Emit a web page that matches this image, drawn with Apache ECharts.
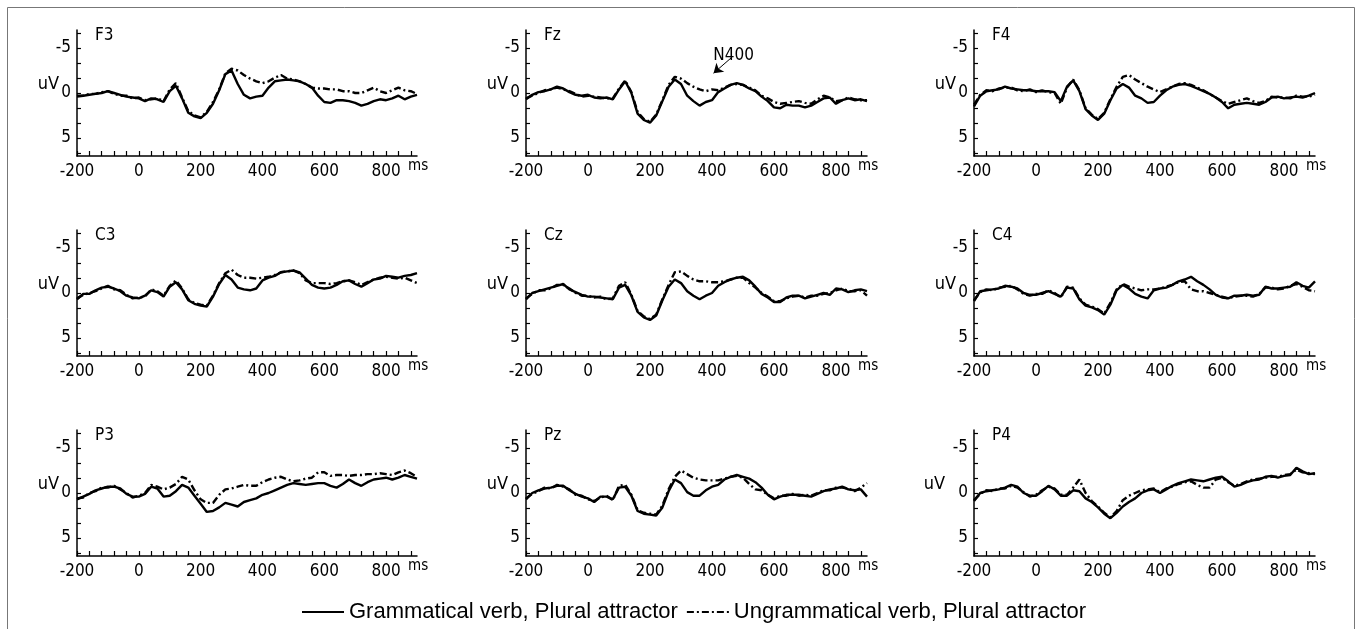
<!DOCTYPE html>
<html>
<head>
<meta charset="utf-8">
<title>ERP waveforms</title>
<script src="https://cdn.jsdelivr.net/npm/echarts@6/dist/echarts.min.js"></script>
<style>
  html, body { margin: 0; padding: 0; background: #fff; }
  #chart { width: 1360px; height: 629px; }
</style>
</head>
<body>
<div id="chart"></div>
<script>
// time axis (ms), one sample every 20 ms
const times = [-200, -180, -160, -140, -120, -100, -80, -60, -40, -20,
  0, 20, 40, 60, 80, 100, 120, 140, 160, 180,
  200, 220, 240, 260, 280, 300, 320, 340, 360, 380,
  400, 420, 440, 460, 480, 500, 520, 540, 560, 580,
  600, 620, 640, 660, 680, 700, 720, 740, 760, 780,
  800, 820, 840, 860, 880, 900];

const xLabelValues = [-200, 0, 200, 400, 600, 800];
const xTickValues = [-200, -160, -120, -80, -40, 0, 40, 80, 120, 160, 200, 240, 280, 320, 360, 400,
  440, 480, 520, 560, 600, 640, 680, 720, 760, 800, 840, 880];
const yLabelValues = [-5, 0, 5];
const yTickValues = [-6.667, -5, -3.333, -1.667, 0, 1.667, 3.333, 5, 6.667];

const legendNames = ['Grammatical verb, Plural attractor', 'Ungrammatical verb, Plural attractor'];

// amplitudes in uV (negative plotted upward)
const f3Gram = [0.4,0.3,0.2,0.1,0.0,-0.2,0.0,0.2,0.4,0.5, 0.6,0.9,0.6,0.7,1.0,-0.2,-0.8,0.6,2.2,2.6,
  2.8,2.2,1.2,-0.3,-2.1,-2.5,-1.0,0.2,0.6,0.4, 0.3,-0.6,-1.3,-1.4,-1.5,-1.4,-1.3,-1.0,-0.6,0.3,
  1.0,1.1,0.8,0.8,0.9,1.1,1.4,1.2,0.9,0.7, 0.8,0.6,0.3,0.7,0.4,0.2];
const f3Ungram = [0.3,0.3,0.1,0.1,-0.1,-0.2,0.1,0.3,0.3,0.6, 0.5,0.8,0.7,0.6,0.9,-0.4,-1.1,0.5,2.0,2.5,
  2.7,2.1,1.0,-0.4,-2.2,-2.7,-2.5,-2.0,-1.6,-1.3, -1.1,-1.3,-1.7,-2.0,-1.6,-1.5,-1.3,-1.0,-0.6,-0.5,
  -0.5,-0.4,-0.4,-0.2,-0.2,0.0,0.0,-0.3,-0.6,-0.2, 0.0,-0.3,-0.6,-0.3,-0.2,0.1];

const fzGram = [0.7,0.2,-0.1,-0.2,-0.4,-0.7,-0.5,-0.1,0.2,0.3, 0.2,0.5,0.6,0.5,0.7,-0.4,-1.3,0.0,2.3,3.0,
  3.3,2.5,0.9,-0.7,-1.5,-1.0,0.3,0.9,1.4,1.0, 0.8,-0.1,-0.5,-0.9,-1.1,-0.9,-0.5,-0.2,0.4,0.9,
  1.6,1.7,1.3,1.4,1.4,1.6,1.4,1.0,0.6,0.5, 1.2,0.8,0.6,0.8,0.7,0.9];
const fzUngram = [0.6,0.3,0.0,-0.3,-0.4,-0.6,-0.4,-0.2,0.1,0.4, 0.3,0.4,0.5,0.6,0.6,-0.5,-1.4,-0.1,2.1,2.9,
  3.2,2.4,0.8,-0.9,-1.8,-1.6,-1.1,-0.7,-0.4,-0.2, -0.4,-0.3,-0.6,-0.9,-1.0,-0.9,-0.6,-0.3,0.3,0.6,
  1.0,1.2,1.1,1.0,0.9,1.1,1.2,0.7,0.3,0.5, 0.9,0.8,0.5,0.7,0.8,0.8];

const f4Gram = [1.5,0.3,-0.2,-0.3,-0.4,-0.7,-0.5,-0.4,-0.3,-0.3, -0.2,-0.2,-0.2,-0.1,0.9,-0.7,-1.4,-0.2,1.8,2.5,
  3.0,2.3,0.8,-0.5,-1.0,-0.6,0.3,0.6,1.1,1.0, 0.3,-0.3,-0.7,-0.9,-1.0,-0.8,-0.5,-0.2,0.1,0.5,
  1.0,1.7,1.3,1.2,1.1,1.2,1.3,1.0,0.5,0.4, 0.6,0.5,0.4,0.5,0.3,0.0];
const f4Ungram = [1.3,0.2,-0.3,-0.2,-0.5,-0.6,-0.6,-0.3,-0.2,-0.4, -0.1,-0.3,-0.1,0.0,1.2,-0.6,-1.5,-0.3,1.7,2.4,
  2.9,2.2,0.7,-0.7,-1.8,-2.0,-1.5,-1.1,-0.7,-0.4, -0.1,-0.4,-0.7,-1.0,-1.1,-0.9,-0.6,-0.3,0.1,0.5,
  0.9,1.2,1.0,0.8,0.6,0.9,1.1,0.9,0.4,0.5, 0.5,0.6,0.3,0.4,0.4,0.2];

const c3Gram = [0.7,0.1,0.1,-0.3,-0.6,-0.7,-0.5,-0.2,0.3,0.5, 0.6,0.3,-0.3,-0.1,0.4,-0.7,-1.2,-0.4,0.8,1.2,
  1.4,1.5,0.4,-1.0,-2.0,-1.5,-0.6,-0.4,-0.3,-0.5, -1.4,-1.7,-1.9,-2.3,-2.4,-2.5,-2.3,-1.6,-0.9,-0.6,
  -0.5,-0.6,-0.9,-1.3,-1.4,-1.0,-0.7,-1.1,-1.5,-1.6, -1.9,-1.8,-1.7,-1.9,-2.0,-2.2];
const c3Ungram = [0.6,0.2,0.0,-0.2,-0.5,-0.8,-0.4,-0.3,0.2,0.6, 0.5,0.4,-0.4,-0.2,0.3,-0.8,-1.4,-0.5,0.7,1.1,
  1.3,1.4,0.3,-1.1,-2.2,-2.6,-2.0,-1.7,-1.7,-1.6, -1.7,-1.8,-2.0,-2.3,-2.4,-2.5,-2.2,-1.4,-1.1,-1.1,
  -1.1,-1.0,-1.1,-1.3,-1.4,-1.2,-0.9,-1.2,-1.5,-1.7, -1.8,-1.7,-1.6,-1.7,-1.4,-1.1];

const czGram = [0.7,0.0,-0.2,-0.4,-0.6,-0.8,-1.0,-0.4,-0.1,0.2, 0.4,0.4,0.5,0.6,0.7,-0.6,-0.9,0.3,2.1,2.7,
  3.0,2.5,0.8,-0.7,-1.5,-1.1,-0.2,0.3,0.7,0.3, 0.0,-0.8,-1.2,-1.5,-1.7,-1.8,-1.4,-0.7,0.1,0.5,
  1.0,1.0,0.5,0.3,0.3,0.6,0.4,0.2,0.0,0.2, -0.5,-0.4,-0.1,-0.3,-0.4,-0.2];
const czUngram = [0.6,0.1,-0.3,-0.3,-0.5,-0.9,-0.9,-0.5,0.0,0.3, 0.3,0.5,0.4,0.7,0.6,-0.8,-1.2,0.2,2.0,2.6,
  2.9,2.4,0.7,-0.9,-2.3,-2.4,-1.9,-1.5,-1.3,-1.3, -1.2,-1.2,-1.3,-1.5,-1.7,-1.7,-1.1,-0.6,0.0,0.4,
  0.9,0.9,0.6,0.4,0.3,0.5,0.3,0.3,0.1,0.0, -0.3,-0.5,-0.2,-0.2,-0.3,0.3];

const c4Gram = [0.9,-0.2,-0.3,-0.4,-0.5,-0.8,-0.7,-0.5,0.0,0.2, 0.2,0.0,-0.2,0.1,0.4,-0.6,-0.5,0.7,1.4,1.6,
  1.9,2.4,1.3,-0.3,-0.9,-0.5,0.1,0.4,0.6,-0.3, -0.5,-0.6,-0.9,-1.3,-1.5,-1.8,-1.3,-0.9,-0.4,0.2,
  0.5,0.6,0.3,0.3,0.2,0.3,0.2,-0.7,-0.5,-0.5, -0.6,-0.7,-1.2,-0.8,-0.6,-1.3];
const c4Ungram = [0.8,-0.1,-0.4,-0.3,-0.6,-0.7,-0.8,-0.4,0.1,0.3, 0.1,0.1,-0.3,0.0,0.5,-0.7,-0.6,0.6,1.3,1.5,
  1.8,2.3,1.1,-0.4,-1.0,-0.7,-0.5,-0.3,-0.4,-0.4, -0.5,-0.7,-0.9,-1.2,-1.3,-0.4,-0.2,-0.2,0.0,0.2,
  0.4,0.6,0.4,0.3,0.3,0.4,0.1,-0.6,-0.6,-0.4, -0.5,-0.8,-1.0,-0.7,-0.3,-0.2];

const p3Gram = [0.7,0.4,0.1,-0.3,-0.5,-0.7,-0.7,-0.5,0.1,0.4, 0.4,0.1,-0.7,-0.5,0.4,0.3,-0.2,-0.9,-0.6,0.3,
  1.2,2.1,2.0,1.6,1.1,1.3,1.5,1.0,0.8,0.6, 0.2,0.0,-0.3,-0.6,-0.9,-1.1,-1.0,-0.9,-1.0,-1.1,
  -1.1,-0.8,-0.6,-1.0,-1.5,-1.1,-0.8,-1.2,-1.5,-1.6, -1.7,-1.5,-1.7,-2.0,-1.8,-1.6];
const p3Ungram = [0.6,0.5,0.0,-0.2,-0.6,-0.6,-0.8,-0.4,0.0,0.5, 0.3,0.0,-0.9,-0.7,-0.4,-0.6,-1.0,-1.8,-1.5,-0.3,
  0.7,1.1,1.1,0.2,-0.4,-0.5,-0.7,-0.9,-0.8,-0.8, -1.2,-1.5,-1.7,-1.8,-1.5,-1.3,-1.4,-1.6,-1.7,-2.3,
  -2.3,-1.9,-2.0,-2.0,-1.9,-2.0,-2.0,-2.1,-2.1,-2.2, -2.1,-2.0,-2.3,-2.5,-2.2,-1.8];

const pzGram = [0.7,0.0,-0.3,-0.5,-0.6,-0.8,-0.8,-0.3,0.1,0.4, 0.6,1.0,0.4,0.4,0.7,-0.6,-0.7,0.3,2.0,2.3,
  2.4,2.5,1.6,-0.2,-1.5,-1.1,-0.1,0.3,0.3,-0.3, -0.7,-0.9,-1.5,-1.8,-2.0,-1.8,-1.6,-1.2,-0.6,0.2,
  0.7,0.4,0.2,0.2,0.2,0.3,0.4,0.1,-0.2,-0.4, -0.5,-0.7,-0.4,-0.3,-0.4,0.4];
const pzUngram = [0.6,0.1,-0.2,-0.6,-0.5,-0.9,-0.7,-0.4,0.2,0.3, 0.7,0.9,0.5,0.3,0.8,-0.8,-0.9,0.2,1.9,2.2,
  2.3,2.4,1.4,-0.4,-1.8,-2.5,-2.1,-1.7,-1.5,-1.4, -1.4,-1.4,-1.6,-1.8,-1.9,-1.7,-1.0,-0.4,-0.3,0.2,
  0.6,0.3,0.3,0.1,0.3,0.2,0.3,0.0,-0.3,-0.3, -0.6,-0.6,-0.5,-0.2,-0.6,-1.1];

const p4Gram = [0.9,0.0,-0.2,-0.3,-0.4,-0.6,-0.9,-0.7,0.0,0.3, 0.3,-0.2,-0.8,-0.4,0.3,0.3,-0.3,-0.2,0.6,1.0,
  1.6,2.3,2.8,2.2,1.5,1.0,0.6,0.0,-0.3,-0.4, 0.0,-0.4,-0.8,-1.1,-1.3,-1.5,-1.4,-1.3,-1.5,-1.7,
  -1.8,-1.3,-0.7,-0.9,-1.2,-1.4,-1.5,-1.8,-1.9,-1.7, -1.9,-2.0,-2.8,-2.4,-2.1,-2.2];
const p4Ungram = [0.8,0.1,-0.3,-0.2,-0.5,-0.5,-0.8,-0.6,-0.1,0.4, 0.2,-0.3,-0.7,-0.5,0.2,0.2,-0.6,-1.5,0.0,0.9,
  1.5,2.2,2.7,2.0,0.8,0.3,0.0,-0.3,-0.4,-0.5, -0.1,-0.5,-0.7,-1.0,-1.2,-1.3,-0.9,-0.6,-0.6,-1.5,
  -1.7,-1.2,-0.8,-1.0,-1.3,-1.5,-1.6,-1.7,-1.8,-1.8, -2.0,-2.1,-2.6,-2.3,-2.2,-2.1];

const panels = [
  { name: 'F3', gram: f3Gram, ungram: f3Ungram },
  { name: 'Fz', gram: fzGram, ungram: fzUngram },
  { name: 'F4', gram: f4Gram, ungram: f4Ungram },
  { name: 'C3', gram: c3Gram, ungram: c3Ungram },
  { name: 'Cz', gram: czGram, ungram: czUngram },
  { name: 'C4', gram: c4Gram, ungram: c4Ungram },
  { name: 'P3', gram: p3Gram, ungram: p3Ungram },
  { name: 'Pz', gram: pzGram, ungram: pzUngram },
  { name: 'P4', gram: p4Gram, ungram: p4Ungram }
];

const narrow = "'Liberation Sans Narrow', 'DejaVu Sans Condensed', sans-serif";
const colLeft = [77, 526, 974];
const colWidth = [340, 341, 341];
const rowTop = [30, 230, 430];
const plotHeight = 126;

function pairs(vals) {
  return times.map((t, i) => [t, vals[i]]);
}

const grids = [], xAxes = [], yAxes = [], titles = [], series = [];

panels.forEach((p, i) => {
  const col = i % 3, row = Math.floor(i / 3);
  grids.push({
    left: colLeft[col], top: rowTop[row], width: colWidth[col], height: plotHeight,
    outerBoundsMode: 'none'
  });
  xAxes.push({
    gridIndex: i, type: 'value', min: -200, max: 900,
    name: 'ms', nameLocation: 'end', nameGap: -9, nameMoveOverlap: false,
    nameTextStyle: { fontFamily: narrow, fontSize: 15, color: '#000', verticalAlign: 'top', padding: [3, 0, 0, 0] },
    axisLine: { onZero: false, lineStyle: { color: '#000', width: 1.5 } },
    axisTick: { inside: true, length: 5, customValues: xTickValues, lineStyle: { color: '#000', width: 1.2 } },
    axisLabel: { customValues: xLabelValues, fontFamily: narrow, fontSize: 17, color: '#000', margin: 7 },
    splitLine: { show: false }
  });
  yAxes.push({
    gridIndex: i, type: 'value', min: -7, max: 7, inverse: true,
    name: 'uV', nameLocation: 'middle', nameRotate: 0, nameGap: p.name === 'P4' ? 29 : 18,
    nameMoveOverlap: false,
    nameTextStyle: { fontFamily: narrow, fontSize: 18, color: '#000', verticalAlign: 'bottom' },
    axisLine: { onZero: false, lineStyle: { color: '#000', width: 1.5 } },
    axisTick: { inside: true, length: 4, customValues: yTickValues, lineStyle: { color: '#000', width: 1.2 } },
    axisLabel: { customValues: yLabelValues, fontFamily: narrow, fontSize: 17, color: '#000', margin: 6 },
    splitLine: { show: false }
  });
  titles.push({
    text: p.name, left: colLeft[col] + 18, top: rowTop[row] - 3, padding: 0,
    textStyle: { fontFamily: narrow, fontSize: 17, fontWeight: 'normal', color: '#000' }
  });

  const dashed = {
    name: legendNames[1], type: 'line', xAxisIndex: i, yAxisIndex: i,
    data: pairs(p.ungram), symbol: 'none', z: 2,
    itemStyle: { color: '#000' },
    lineStyle: { color: '#000', width: 2.4, type: [7, 3, 2, 3] }
  };
  if (p.name === 'Fz') {
    dashed.markLine = {
      silent: true, animation: false,
      symbol: ['none', 'arrow'], symbolSize: 9,
      lineStyle: { color: '#000', width: 1, type: 'solid' },
      label: {
        show: true, position: 'start', formatter: 'N400', distance: 2,
        fontFamily: narrow, fontSize: 17, color: '#000'
      },
      data: [[{ coord: [465, -4.0] }, { coord: [405, -2.2] }]]
    };
  }
  series.push(dashed);
  series.push({
    name: legendNames[0], type: 'line', xAxisIndex: i, yAxisIndex: i,
    data: pairs(p.gram), symbol: 'none', z: 3,
    itemStyle: { color: '#000' },
    lineStyle: { color: '#000', width: 2.4, type: 'solid' }
  });
});

const chart = echarts.init(document.getElementById('chart'));
chart.setOption({
  backgroundColor: '#fff',
  animation: false,
  title: titles,
  grid: grids,
  xAxis: xAxes,
  yAxis: yAxes,
  legend: {
    data: legendNames,
    left: 296, top: 596,
    itemWidth: 42, itemHeight: 14, itemGap: 8,
    itemStyle: { opacity: 0 },
    textStyle: { fontFamily: "'Liberation Sans', Arial, sans-serif", fontSize: 22, color: '#000' }
  },
  graphic: [{
    type: 'rect', silent: true,
    shape: { x: 7.5, y: 7.5, width: 1347, height: 640 },
    style: { fill: 'none', stroke: '#777', lineWidth: 1 }
  }],
  series: series
});
</script>
</body>
</html>
